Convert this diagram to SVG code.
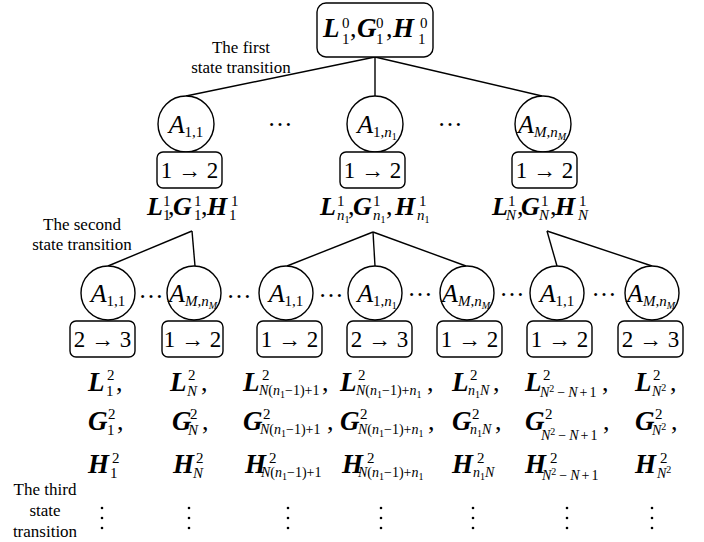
<svg xmlns="http://www.w3.org/2000/svg" width="704" height="542" viewBox="0 0 704 542" font-family="'Liberation Serif', Tinos, 'DejaVu Serif', serif">
<style>
.ln{stroke:#000;stroke-width:1.4;fill:none}
.nd{fill:#fff;stroke:#000;stroke-width:1.4}
.dt{fill:#000}
text{font-family:'Liberation Serif', Tinos, 'DejaVu Serif', serif;fill:#000}
.lab{font-size:17px}
.m{font-size:26px;font-weight:bold;font-style:italic}
.m2{font-size:27px;font-weight:bold;font-style:italic}
.s{font-size:15px;font-weight:normal;font-style:normal}
.si{font-size:15px;font-weight:normal;font-style:italic}
.b{font-size:14px;font-weight:normal;font-style:normal}
.bi{font-size:14px;font-weight:normal;font-style:italic}
.ss{font-size:10px;font-weight:normal;font-style:normal}
.ssi{font-size:10px;font-weight:normal;font-style:italic}
.c{font-size:26px;font-weight:normal;font-style:normal}
.ar{font-size:23px}
.A{font-size:26px;font-style:italic}
.el{font-size:25px}
</style>
<rect width="704" height="542" fill="#fff"/>

<g id="connectors">
<line class="ln" x1="375" y1="57" x2="186" y2="96"/>
<line class="ln" x1="375" y1="57" x2="375" y2="96"/>
<line class="ln" x1="375" y1="57" x2="542" y2="96"/>
<line class="ln" x1="192" y1="231" x2="108" y2="266"/>
<line class="ln" x1="192" y1="231" x2="195" y2="266"/>
<line class="ln" x1="373" y1="232" x2="287" y2="266"/>
<line class="ln" x1="373" y1="232" x2="375" y2="266"/>
<line class="ln" x1="373" y1="232" x2="466" y2="266"/>
<line class="ln" x1="547" y1="231" x2="557" y2="266"/>
<line class="ln" x1="547" y1="231" x2="652" y2="266"/>
</g>

<g id="root">
<rect class="nd" x="317" y="3" width="116" height="54" rx="9"/>
<text><tspan class="m2" x="323" y="37">L</tspan><tspan class="s" x="342" y="28">0</tspan><tspan class="s" x="342" y="44">1</tspan><tspan class="c" x="350" y="37">,</tspan><tspan class="m2" x="357" y="37">G</tspan><tspan class="s" x="376" y="28">0</tspan><tspan class="s" x="376" y="44">1</tspan><tspan class="c" x="386" y="37">,</tspan><tspan class="m2" x="393" y="37">H</tspan><tspan class="s" x="420" y="28">0</tspan><tspan class="s" x="418" y="44">1</tspan></text>
</g>

<g id="label-first">
<text class="lab" text-anchor="middle"><tspan x="241" y="53">The first</tspan><tspan x="241" y="73">state transition</tspan></text>
</g>
<g id="label-second">
<text class="lab" text-anchor="middle"><tspan x="82" y="230">The second</tspan><tspan x="82" y="250">state transition</tspan></text>
</g>
<g id="label-third">
<text class="lab" text-anchor="middle"><tspan x="45" y="495">The third</tspan><tspan x="45" y="516">state</tspan><tspan x="45" y="537">transition</tspan></text>
</g>

<g id="a1-1">
<circle class="nd" cx="186" cy="124" r="28"/>
<text text-anchor="middle" x="186" y="133"><tspan class="A">A</tspan><tspan class="s" dy="4">1,1</tspan></text>
</g>
<g id="a1-2">
<circle class="nd" cx="375" cy="124" r="28"/>
<text text-anchor="middle" x="377" y="133"><tspan class="A">A</tspan><tspan class="s" dy="4">1,</tspan><tspan class="si">n</tspan><tspan class="ss" dy="3">1</tspan></text>
</g>
<g id="a1-3">
<circle class="nd" cx="543" cy="124" r="28"/>
<text text-anchor="middle" x="542" y="133"><tspan class="A">A</tspan><tspan class="si" dy="4">M</tspan><tspan class="s">,</tspan><tspan class="si">n</tspan><tspan class="ssi" dy="3">M</tspan></text>
</g>
<g id="dots-1">
<text class="el" text-anchor="middle" x="280" y="126">…</text>
<text class="el" text-anchor="middle" x="450" y="126">…</text>
</g>
<g id="b1-1">
<rect class="nd" x="157" y="152" width="65" height="36" rx="6"/>
<text class="ar" text-anchor="middle" x="189.5" y="178">1 → 2</text>
</g>
<g id="b1-2">
<rect class="nd" x="340" y="152" width="65" height="36" rx="6"/>
<text class="ar" text-anchor="middle" x="372.5" y="178">1 → 2</text>
</g>
<g id="b1-3">
<rect class="nd" x="512" y="152" width="65" height="36" rx="6"/>
<text class="ar" text-anchor="middle" x="544.5" y="178">1 → 2</text>
</g>

<g id="s1-1">
<text><tspan class="m" x="147" y="215">L</tspan><tspan class="s" x="163" y="206">1</tspan><tspan class="s" x="163" y="220">1</tspan><tspan class="c" x="168" y="215">,</tspan><tspan class="m" x="173" y="215">G</tspan><tspan class="s" x="194" y="206">1</tspan><tspan class="s" x="194" y="220">1</tspan><tspan class="c" x="201" y="215">,</tspan><tspan class="m" x="207" y="215">H</tspan><tspan class="s" x="231" y="206">1</tspan><tspan class="s" x="229" y="220">1</tspan></text>
</g>
<g id="s1-2">
<text><tspan class="m" x="320" y="215">L</tspan><tspan class="s" x="337" y="206">1</tspan><tspan class="si" x="337" y="220">n</tspan><tspan class="ss" dy="3">1</tspan><tspan class="c" x="348" y="215">,</tspan><tspan class="m" x="353" y="215">G</tspan><tspan class="s" x="373" y="206">1</tspan><tspan class="si" x="373" y="220">n</tspan><tspan class="ss" dy="3">1</tspan><tspan class="c" x="386" y="215">,</tspan><tspan class="m" x="395" y="215">H</tspan><tspan class="s" x="419" y="206">1</tspan><tspan class="si" x="417" y="220">n</tspan><tspan class="ss" dy="3">1</tspan></text>
</g>
<g id="s1-3">
<text><tspan class="m" x="492" y="215">L</tspan><tspan class="s" x="508" y="206">1</tspan><tspan class="si" x="506" y="220">N</tspan><tspan class="c" x="517" y="215">,</tspan><tspan class="m" x="521" y="215">G</tspan><tspan class="s" x="541" y="206">1</tspan><tspan class="si" x="539" y="220">N</tspan><tspan class="c" x="550" y="215">,</tspan><tspan class="m" x="555" y="215">H</tspan><tspan class="s" x="579" y="206">1</tspan><tspan class="si" x="578" y="220">N</tspan></text>
</g>

<g id="a2-1">
<circle class="nd" cx="108" cy="293" r="27"/>
<text text-anchor="middle" x="108" y="302"><tspan class="A">A</tspan><tspan class="s" dy="4">1,1</tspan></text>
</g>
<g id="a2-2">
<circle class="nd" cx="194" cy="293" r="27"/>
<text text-anchor="middle" x="193" y="302"><tspan class="A">A</tspan><tspan class="si" dy="4">M</tspan><tspan class="s">,</tspan><tspan class="si">n</tspan><tspan class="ssi" dy="3">M</tspan></text>
</g>
<g id="a2-3">
<circle class="nd" cx="286" cy="293" r="27"/>
<text text-anchor="middle" x="286" y="302"><tspan class="A">A</tspan><tspan class="s" dy="4">1,1</tspan></text>
</g>
<g id="a2-4">
<circle class="nd" cx="375" cy="293" r="27"/>
<text text-anchor="middle" x="377" y="302"><tspan class="A">A</tspan><tspan class="s" dy="4">1,</tspan><tspan class="si">n</tspan><tspan class="ss" dy="3">1</tspan></text>
</g>
<g id="a2-5">
<circle class="nd" cx="467" cy="293" r="27"/>
<text text-anchor="middle" x="466" y="302"><tspan class="A">A</tspan><tspan class="si" dy="4">M</tspan><tspan class="s">,</tspan><tspan class="si">n</tspan><tspan class="ssi" dy="3">M</tspan></text>
</g>
<g id="a2-6">
<circle class="nd" cx="557" cy="293" r="27"/>
<text text-anchor="middle" x="557" y="302"><tspan class="A">A</tspan><tspan class="s" dy="4">1,1</tspan></text>
</g>
<g id="a2-7">
<circle class="nd" cx="652" cy="293" r="27"/>
<text text-anchor="middle" x="651" y="302"><tspan class="A">A</tspan><tspan class="si" dy="4">M</tspan><tspan class="s">,</tspan><tspan class="si">n</tspan><tspan class="ssi" dy="3">M</tspan></text>
</g>
<g id="dots-2">
<text class="el" text-anchor="middle" x="151" y="298">…</text>
<text class="el" text-anchor="middle" x="239" y="298">…</text>
<text class="el" text-anchor="middle" x="331" y="297">…</text>
<text class="el" text-anchor="middle" x="420" y="296">…</text>
<text class="el" text-anchor="middle" x="512" y="296">…</text>
<text class="el" text-anchor="middle" x="604" y="296">…</text>
</g>

<g id="b2-1"><rect class="nd" x="70" y="321" width="65" height="36" rx="6"/><text class="ar" text-anchor="middle" x="102.5" y="347">2 → 3</text></g>
<g id="b2-2"><rect class="nd" x="162" y="321" width="61" height="36" rx="6"/><text class="ar" text-anchor="middle" x="192.5" y="347">1 → 2</text></g>
<g id="b2-3"><rect class="nd" x="257" y="321" width="65" height="36" rx="6"/><text class="ar" text-anchor="middle" x="289.5" y="347">1 → 2</text></g>
<g id="b2-4"><rect class="nd" x="347" y="321" width="65" height="36" rx="6"/><text class="ar" text-anchor="middle" x="379.5" y="347">2 → 3</text></g>
<g id="b2-5"><rect class="nd" x="437" y="321" width="65" height="36" rx="6"/><text class="ar" text-anchor="middle" x="469.5" y="347">1 → 2</text></g>
<g id="b2-6"><rect class="nd" x="527" y="321" width="65" height="36" rx="6"/><text class="ar" text-anchor="middle" x="559.5" y="347">1 → 2</text></g>
<g id="b2-7"><rect class="nd" x="618" y="321" width="65" height="36" rx="6"/><text class="ar" text-anchor="middle" x="650.5" y="347">2 → 3</text></g>

<g id="s2-1">
<text><tspan class="m2" x="88" y="391">L</tspan><tspan class="s" x="107" y="380">2</tspan><tspan class="s" x="106" y="396">1</tspan><tspan class="c" x="116" y="391">,</tspan></text>
<text><tspan class="m2" x="88" y="430">G</tspan><tspan class="s" x="108" y="419">2</tspan><tspan class="s" x="107" y="435">1</tspan><tspan class="c" x="117" y="430">,</tspan></text>
<text><tspan class="m2" x="88" y="473">H</tspan><tspan class="s" x="112" y="463">2</tspan><tspan class="s" x="110" y="478">1</tspan></text>
</g>
<g id="s2-2">
<text><tspan class="m2" x="170" y="391">L</tspan><tspan class="s" x="188" y="380">2</tspan><tspan class="si" x="187" y="396">N</tspan><tspan class="c" x="201" y="391">,</tspan></text>
<text><tspan class="m2" x="172" y="430">G</tspan><tspan class="s" x="190" y="419">2</tspan><tspan class="si" x="188" y="435">N</tspan><tspan class="c" x="202" y="430">,</tspan></text>
<text><tspan class="m2" x="173" y="473">H</tspan><tspan class="s" x="196" y="463">2</tspan><tspan class="si" x="193" y="478">N</tspan></text>
</g>
<g id="s2-3">
<text><tspan class="m2" x="243" y="391">L</tspan><tspan class="s" x="262" y="380">2</tspan><tspan class="bi" x="259" y="395">N</tspan><tspan class="b">(</tspan><tspan class="bi">n</tspan><tspan class="ss" dy="3">1</tspan><tspan class="b" dy="-3">−1)+1</tspan><tspan class="c" x="322" y="391">,</tspan></text>
<text><tspan class="m2" x="243" y="430">G</tspan><tspan class="s" x="263" y="419">2</tspan><tspan class="bi" x="260" y="434">N</tspan><tspan class="b">(</tspan><tspan class="bi">n</tspan><tspan class="ss" dy="3">1</tspan><tspan class="b" dy="-3">−1)+1</tspan><tspan class="c" x="327" y="430">,</tspan></text>
<text><tspan class="m2" x="245" y="473">H</tspan><tspan class="s" x="269" y="463">2</tspan><tspan class="bi" x="261" y="477">N</tspan><tspan class="b">(</tspan><tspan class="bi">n</tspan><tspan class="ss" dy="3">1</tspan><tspan class="b" dy="-3">−1)+1</tspan></text>
</g>
<g id="s2-4">
<text><tspan class="m2" x="340" y="391">L</tspan><tspan class="s" x="358" y="380">2</tspan><tspan class="bi" x="356" y="395">N</tspan><tspan class="b">(</tspan><tspan class="bi">n</tspan><tspan class="ss" dy="3">1</tspan><tspan class="b" dy="-3">−1)+</tspan><tspan class="bi">n</tspan><tspan class="ss" dy="3">1</tspan><tspan class="c" x="427" y="391">,</tspan></text>
<text><tspan class="m2" x="340" y="430">G</tspan><tspan class="s" x="360" y="419">2</tspan><tspan class="bi" x="358" y="434">N</tspan><tspan class="b">(</tspan><tspan class="bi">n</tspan><tspan class="ss" dy="3">1</tspan><tspan class="b" dy="-3">−1)+</tspan><tspan class="bi">n</tspan><tspan class="ss" dy="3">1</tspan><tspan class="c" x="428" y="430">,</tspan></text>
<text><tspan class="m2" x="342" y="473">H</tspan><tspan class="s" x="367" y="463">2</tspan><tspan class="bi" x="358" y="477">N</tspan><tspan class="b">(</tspan><tspan class="bi">n</tspan><tspan class="ss" dy="3">1</tspan><tspan class="b" dy="-3">−1)+</tspan><tspan class="bi">n</tspan><tspan class="ss" dy="3">1</tspan></text>
</g>
<g id="s2-5">
<text><tspan class="m2" x="452" y="391">L</tspan><tspan class="s" x="470" y="380">2</tspan><tspan class="bi" x="468" y="395">n</tspan><tspan class="ss" dy="3">1</tspan><tspan class="bi" dy="-3">N</tspan><tspan class="c" x="493" y="391">,</tspan></text>
<text><tspan class="m2" x="452" y="430">G</tspan><tspan class="s" x="472" y="419">2</tspan><tspan class="bi" x="470" y="434">n</tspan><tspan class="ss" dy="3">1</tspan><tspan class="bi" dy="-3">N</tspan><tspan class="c" x="495" y="430">,</tspan></text>
<text><tspan class="m2" x="452" y="473">H</tspan><tspan class="s" x="477" y="463">2</tspan><tspan class="bi" x="473" y="477">n</tspan><tspan class="ss" dy="3">1</tspan><tspan class="bi" dy="-3">N</tspan></text>
</g>
<g id="s2-6">
<text><tspan class="m2" x="525" y="391">L</tspan><tspan class="s" x="543" y="380">2</tspan><tspan class="bi" x="540" y="397">N</tspan><tspan class="ss" dy="-5">2</tspan><tspan class="b" dx="3" dy="5">−</tspan><tspan class="bi" dx="3">N</tspan><tspan class="b" dx="2">+</tspan><tspan class="b" dx="2">1</tspan><tspan class="c" x="602" y="391">,</tspan></text>
<text><tspan class="m2" x="525" y="430">G</tspan><tspan class="s" x="545" y="419">2</tspan><tspan class="bi" x="541" y="440">N</tspan><tspan class="ss" dy="-5">2</tspan><tspan class="b" dx="3" dy="5">−</tspan><tspan class="bi" dx="3">N</tspan><tspan class="b" dx="2">+</tspan><tspan class="b" dx="2">1</tspan><tspan class="c" x="603" y="430">,</tspan></text>
<text><tspan class="m2" x="525" y="473">H</tspan><tspan class="s" x="550" y="463">2</tspan><tspan class="bi" x="542" y="480">N</tspan><tspan class="ss" dy="-5">2</tspan><tspan class="b" dx="3" dy="5">−</tspan><tspan class="bi" dx="3">N</tspan><tspan class="b" dx="2">+</tspan><tspan class="b" dx="2">1</tspan></text>
</g>
<g id="s2-7">
<text><tspan class="m2" x="635" y="391">L</tspan><tspan class="s" x="653" y="380">2</tspan><tspan class="bi" x="652" y="396">N</tspan><tspan class="ss" dy="-5">2</tspan><tspan class="c" x="670" y="391">,</tspan></text>
<text><tspan class="m2" x="635" y="430">G</tspan><tspan class="s" x="655" y="419">2</tspan><tspan class="bi" x="652" y="435">N</tspan><tspan class="ss" dy="-5">2</tspan><tspan class="c" x="671" y="430">,</tspan></text>
<text><tspan class="m2" x="635" y="473">H</tspan><tspan class="s" x="660" y="463">2</tspan><tspan class="bi" x="657" y="478">N</tspan><tspan class="ss" dy="-5">2</tspan></text>
</g>

<g id="vdots">
<circle class="dt" cx="102" cy="508" r="1.3"/><circle class="dt" cx="102" cy="518" r="1.3"/><circle class="dt" cx="102" cy="528" r="1.3"/>
<circle class="dt" cx="189" cy="508" r="1.3"/><circle class="dt" cx="189" cy="518" r="1.3"/><circle class="dt" cx="189" cy="528" r="1.3"/>
<circle class="dt" cx="288" cy="508" r="1.3"/><circle class="dt" cx="288" cy="518" r="1.3"/><circle class="dt" cx="288" cy="528" r="1.3"/>
<circle class="dt" cx="381" cy="508" r="1.3"/><circle class="dt" cx="381" cy="518" r="1.3"/><circle class="dt" cx="381" cy="528" r="1.3"/>
<circle class="dt" cx="473" cy="508" r="1.3"/><circle class="dt" cx="473" cy="518" r="1.3"/><circle class="dt" cx="473" cy="528" r="1.3"/>
<circle class="dt" cx="567" cy="508" r="1.3"/><circle class="dt" cx="567" cy="518" r="1.3"/><circle class="dt" cx="567" cy="528" r="1.3"/>
<circle class="dt" cx="652" cy="508" r="1.3"/><circle class="dt" cx="652" cy="518" r="1.3"/><circle class="dt" cx="652" cy="528" r="1.3"/>
</g>
</svg>
